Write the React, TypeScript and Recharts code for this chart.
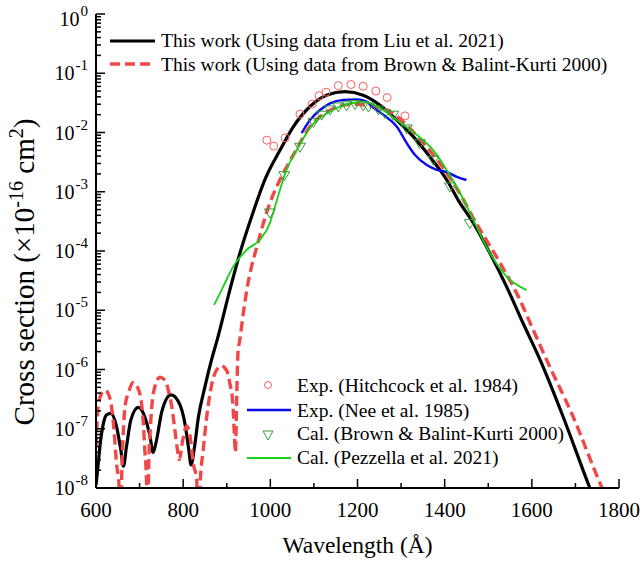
import React from "react";
import { ComposedChart, Line, Scatter, XAxis, YAxis, Label } from "recharts";

const FONT = "'Liberation Serif', 'Times New Roman', 'DejaVu Serif', serif";

// wavelength (Å) and cross section (x1e-16 cm^2)
const LIU_WL = [600, 605, 609, 617, 624, 634, 647, 657, 663, 670, 680, 697, 712, 724, 731, 739, 751, 772, 789, 804, 813, 818, 825, 835, 850, 865, 878, 907, 930, 957, 989, 1022, 1053, 1091, 1129, 1171, 1213, 1252, 1290, 1328, 1366, 1405, 1431, 1466, 1504, 1542, 1580, 1619, 1672, 1732, 1760];
const LIU_CS = [1.12e-8, 2.5e-8, 5.0e-8, 1.23e-7, 1.7e-7, 1.82e-7, 1.1e-7, 4.37e-8, 2.34e-8, 5.0e-8, 1.41e-7, 2.29e-7, 1.58e-7, 7.4e-8, 3.98e-8, 6.46e-8, 1.95e-7, 3.72e-7, 2.88e-7, 1.23e-7, 4.37e-8, 2.45e-8, 4.37e-8, 1.58e-7, 5.13e-7, 1.45e-6, 3.16e-6, 2.19e-5, 9.12e-5, 3.8e-4, 1.7e-3, 5.0e-3, 1.26e-2, 2.75e-2, 4.27e-2, 4.9e-2, 4.27e-2, 2.88e-2, 1.62e-2, 8.5e-3, 3.9e-3, 1.58e-3, 7.24e-4, 2.95e-4, 9.12e-5, 2.51e-5, 6.03e-6, 1.45e-6, 1.58e-7, 1.05e-8, 3.2e-9];

const BROWN_WL = [600, 605, 613, 621, 632, 640, 647, 653, 656, 659, 663, 667, 674, 686, 697, 705, 709, 712, 716, 718, 721, 724, 728, 735, 747, 758, 766, 774, 781, 787, 791, 799, 808, 816, 823, 831, 835, 839, 846, 854, 863, 873, 888, 900, 907, 914, 917, 920, 923, 926, 930, 938, 946, 957, 969, 984, 999, 1018, 1034, 1060, 1091, 1120, 1150, 1190, 1230, 1270, 1305, 1328, 1374, 1397, 1435, 1470, 1523, 1573, 1603, 1634, 1695, 1760, 1780];
const BROWN_CS = [5.0e-8, 2.34e-7, 3.98e-7, 4.47e-7, 3.24e-7, 1.23e-7, 2.63e-8, 1.05e-8, 1e-9, 1.58e-8, 1e-7, 2.51e-7, 3.98e-7, 6.03e-7, 4.68e-7, 2.51e-7, 1.1e-7, 4.37e-8, 1.26e-8, 1e-9, 2.5e-8, 8.3e-8, 2.34e-7, 5.13e-7, 7.41e-7, 6.61e-7, 4.47e-7, 2.34e-7, 9.55e-8, 4.37e-8, 3.02e-8, 6.46e-8, 1.12e-7, 7.4e-8, 2.63e-8, 1.38e-8, 1e-9, 1.2e-8, 4.37e-8, 1.58e-7, 4.47e-7, 8.7e-7, 1.15e-6, 9.55e-7, 5.89e-7, 2.69e-7, 9.55e-8, 4e-8, 4e-7, 2e-6, 3.16e-6, 8.9e-6, 2.19e-5, 5.5e-5, 1.17e-4, 2.95e-4, 6.46e-4, 1.38e-3, 2.34e-3, 5.2e-3, 1.26e-2, 2.0e-2, 2.63e-2, 3.0e-2, 2.8e-2, 2.34e-2, 1.51e-2, 1.02e-2, 4.17e-3, 2.51e-3, 9.3e-4, 3.16e-4, 7.1e-5, 1.48e-5, 4.68e-6, 1.45e-6, 1.58e-7, 1.05e-8, 5e-9];

const NEE_WL = [1072, 1091, 1114, 1137, 1167, 1198, 1221, 1233, 1259, 1290, 1313, 1332, 1359, 1382, 1405, 1428, 1450];
const NEE_CS = [9.8e-3, 1.62e-2, 2.4e-2, 3.1e-2, 3.55e-2, 3.63e-2, 3.31e-2, 2.75e-2, 2.0e-2, 1.26e-2, 6.6e-3, 4.17e-3, 2.82e-3, 2.34e-3, 2.14e-3, 1.78e-3, 1.58e-3];

const PEZ_WL = [871, 892, 915, 946, 976, 999, 1007, 1022, 1037, 1060, 1099, 1129, 1160, 1198, 1213, 1252, 1290, 1336, 1374, 1412, 1443, 1466, 1496, 1542, 1588];
const PEZ_CS = [1.23e-5, 2.51e-5, 5.5e-5, 1.05e-4, 1.55e-4, 2.95e-4, 4.57e-4, 1.07e-3, 2.34e-3, 5.0e-3, 1.41e-2, 2.09e-2, 2.75e-2, 3.24e-2, 3.31e-2, 2.57e-2, 1.62e-2, 9.1e-3, 5.0e-3, 1.9e-3, 7.4e-4, 3.31e-4, 1.17e-4, 3.72e-5, 2.19e-5];

const HITCH_WL = [992, 1008, 1034, 1068, 1096, 1112, 1128, 1156, 1185, 1213, 1242, 1268, 1309];
const HITCH_CS = [7.41e-3, 5.89e-3, 8.13e-3, 2.04e-2, 3.02e-2, 4.17e-2, 4.79e-2, 6.17e-2, 6.46e-2, 6.03e-2, 5.01e-2, 3.89e-2, 1.91e-2];

const BBK_WL = [999, 1032, 1068, 1099, 1118, 1137, 1156, 1175, 1194, 1213, 1225, 1248, 1263, 1282, 1313, 1343, 1374, 1412, 1458];
const BBK_CS = [4.47e-4, 1.9e-3, 5.75e-3, 1.51e-2, 2.0e-2, 2.45e-2, 2.75e-2, 2.88e-2, 3.02e-2, 2.88e-2, 2.75e-2, 2.45e-2, 2.14e-2, 2.0e-2, 1.17e-2, 6.6e-3, 3.47e-3, 1.23e-3, 2.95e-4];

const X_TICKS = [600, 700, 800, 900, 1000, 1100, 1200, 1300, 1400, 1500, 1600, 1700, 1800];
const X_LABELS = [600, 800, 1000, 1200, 1400, 1600, 1800];
const Y_DECADES = [-8, -7, -6, -5, -4, -3, -2, -1];
const Y_TICKS = [...Y_DECADES.flatMap((e) => [1, 2, 3, 4, 5, 6, 7, 8, 9].map((k) => k * Math.pow(10, e))), 1];

const zip = (wl: number[], cs: number[]) => wl.map((x, i) => ({ x, y: cs[i] }));
const liu = zip(LIU_WL, LIU_CS);
const brown = zip(BROWN_WL, BROWN_CS);
const nee = zip(NEE_WL, NEE_CS);
const pez = zip(PEZ_WL, PEZ_CS);
const hitch = zip(HITCH_WL, HITCH_CS);
const bbk = zip(BBK_WL, BBK_CS);

const RED = "#f04848";
const CIRCLE = "#ff5c5c";
const BLUE = "#0a0aee";
const GREEN = "#14d214";
const TRI = "#3a9a3a";

const isDecade = (v: number) => {
  const e = Math.log10(v);
  return Math.abs(e - Math.round(e)) < 1e-6;
};

function LeftTick({ x, y, payload }: any) {
  const major = isDecade(payload.value);
  const exp = Math.round(Math.log10(payload.value));
  // the 10^0 label sits a little low so it stays inside the picture
  const ty = exp === 0 ? y + 5 : y;
  return (
    <g>
      <line x1={x} x2={x + (major ? 9 : 5)} y1={y} y2={y} stroke="#000" strokeWidth={1.5} />
      {major && (
        <text x={x - 8} y={ty + 7} textAnchor="end" fontFamily={FONT} fontSize={20} fill="#000">
          10
          <tspan dx={1} dy={-10} fontSize={15}>
            {exp}
          </tspan>
        </text>
      )}
    </g>
  );
}

function RightTick({ x, y, payload }: any) {
  const major = isDecade(payload.value);
  return <line x1={x} x2={x - (major ? 9 : 5)} y1={y} y2={y} stroke="#000" strokeWidth={1.5} />;
}

function BottomTick({ x, y, payload }: any) {
  const major = X_LABELS.includes(payload.value);
  return (
    <g>
      <line x1={x} x2={x} y1={y} y2={y - (major ? 9 : 5)} stroke="#000" strokeWidth={1.5} />
      {major && (
        <text x={x} y={y + 29} textAnchor="middle" fontFamily={FONT} fontSize={21} fill="#000">
          {payload.value}
        </text>
      )}
    </g>
  );
}

function TopTick({ x, y, payload }: any) {
  const major = X_LABELS.includes(payload.value);
  return <line x1={x} x2={x} y1={y} y2={y + (major ? 9 : 5)} stroke="#000" strokeWidth={1.5} />;
}

const Circle = ({ cx, cy }: any) => <circle cx={cx} cy={cy} r={4} fill="none" stroke={CIRCLE} strokeWidth={1} />;
const Tri = ({ cx, cy }: any) => (
  <path d={`M${cx - 5.5},${cy - 3.5}L${cx + 5.5},${cy - 3.5}L${cx},${cy + 5.5}Z`} fill="none" stroke={TRI} strokeWidth={1} />
);

const axisLine = { stroke: "#000", strokeWidth: 2 };

export default function App() {
  return (
    <div style={{ position: "relative", width: 644, height: 566, background: "#fff", fontFamily: FONT }}>
      <style>{"body{margin:0;}"}</style>
      <ComposedChart width={644} height={566} margin={{ top: 14, right: 25, bottom: 0, left: 0 }}>
        <XAxis
          xAxisId="b"
          type="number"
          dataKey="x"
          domain={[600, 1800]}
          allowDataOverflow
          ticks={X_TICKS}
          interval={0}
          tickSize={0}
          tickMargin={0}
          tickLine={false}
          tick={(p: any) => <BottomTick {...p} />}
          axisLine={axisLine}
          height={78}
        >
          <Label value="Wavelength (Å)" position="insideBottom" offset={13} style={{ fontFamily: FONT, fontSize: 23.5, fill: "#000" }} />
        </XAxis>
        <XAxis
          xAxisId="t"
          orientation="top"
          type="number"
          domain={[600, 1800]}
          allowDataOverflow
          ticks={X_TICKS}
          interval={0}
          tickSize={0}
          tickMargin={0}
          tickLine={false}
          tick={(p: any) => <TopTick {...p} />}
          axisLine={axisLine}
          height={0}
        />
        <YAxis
          yAxisId="l"
          type="number"
          dataKey="y"
          scale="log"
          domain={[1e-8, 1]}
          allowDataOverflow
          ticks={Y_TICKS}
          interval={0}
          tickSize={0}
          tickMargin={0}
          tickLine={false}
          tick={(p: any) => <LeftTick {...p} />}
          axisLine={axisLine}
          width={96}
        />
        <YAxis
          yAxisId="r"
          orientation="right"
          type="number"
          scale="log"
          domain={[1e-8, 1]}
          allowDataOverflow
          ticks={Y_TICKS}
          interval={0}
          tickSize={0}
          tickMargin={0}
          tickLine={false}
          tick={(p: any) => <RightTick {...p} />}
          axisLine={axisLine}
          width={0}
        />
        <Line xAxisId="b" yAxisId="l" data={liu} dataKey="y" type="monotone" stroke="#000" strokeWidth={3.2} dot={false} isAnimationActive={false} />
        <Line xAxisId="b" yAxisId="l" data={brown} dataKey="y" type="monotone" stroke={RED} strokeWidth={3.4} strokeDasharray="10 5" dot={false} isAnimationActive={false} />
        <Line xAxisId="b" yAxisId="l" data={nee} dataKey="y" type="monotone" stroke={BLUE} strokeWidth={2.4} dot={false} isAnimationActive={false} />
        <Line xAxisId="b" yAxisId="l" data={pez} dataKey="y" type="monotone" stroke={GREEN} strokeWidth={1.8} dot={false} isAnimationActive={false} />
        <Scatter xAxisId="b" yAxisId="l" data={bbk} dataKey="y" shape={(p: any) => <Tri {...p} />} isAnimationActive={false} />
        <Scatter xAxisId="b" yAxisId="l" data={hitch} dataKey="y" shape={(p: any) => <Circle {...p} />} isAnimationActive={false} />
      </ComposedChart>

      <svg width={644} height={566} style={{ position: "absolute", left: 0, top: 0, pointerEvents: "none", fontFamily: FONT }} fill="#000">
        <text transform="translate(34,272) rotate(-90)" textAnchor="middle" fontSize={29}>
          Cross section (×10
          <tspan dy={-11} fontSize={20}>-16</tspan>
          <tspan dy={11}> cm</tspan>
          <tspan dy={-11} fontSize={20}>2</tspan>
          <tspan dy={11}>)</tspan>
        </text>

        <line x1={110} x2={155} y1={41} y2={41} stroke="#000" strokeWidth={3.2} />
        <text x={161} y={47} fontSize={19.5}>This work (Using data from Liu et al. 2021)</text>
        <line x1={110} x2={155} y1={64} y2={64} stroke={RED} strokeWidth={3.4} strokeDasharray="10 5" />
        <text x={161} y={71} fontSize={19.5}>This work (Using data from Brown &amp; Balint-Kurti 2000)</text>

        <circle cx={268} cy={385} r={3.5} fill="none" stroke={CIRCLE} strokeWidth={1} />
        <text x={297} y={392} fontSize={19.5}>Exp. (Hitchcock et al. 1984)</text>
        <line x1={247} x2={291} y1={410} y2={410} stroke={BLUE} strokeWidth={2.4} />
        <text x={297} y={417} fontSize={19.5}>Exp. (Nee et al. 1985)</text>
        <path d="M263,431L273,431L268,440Z" fill="none" stroke={TRI} strokeWidth={1} />
        <text x={297} y={440} fontSize={19.5}>Cal. (Brown &amp; Balint-Kurti 2000)</text>
        <line x1={247} x2={291} y1={458} y2={458} stroke={GREEN} strokeWidth={1.8} />
        <text x={297} y={464} fontSize={19.5}>Cal. (Pezzella et al. 2021)</text>
      </svg>
    </div>
  );
}
